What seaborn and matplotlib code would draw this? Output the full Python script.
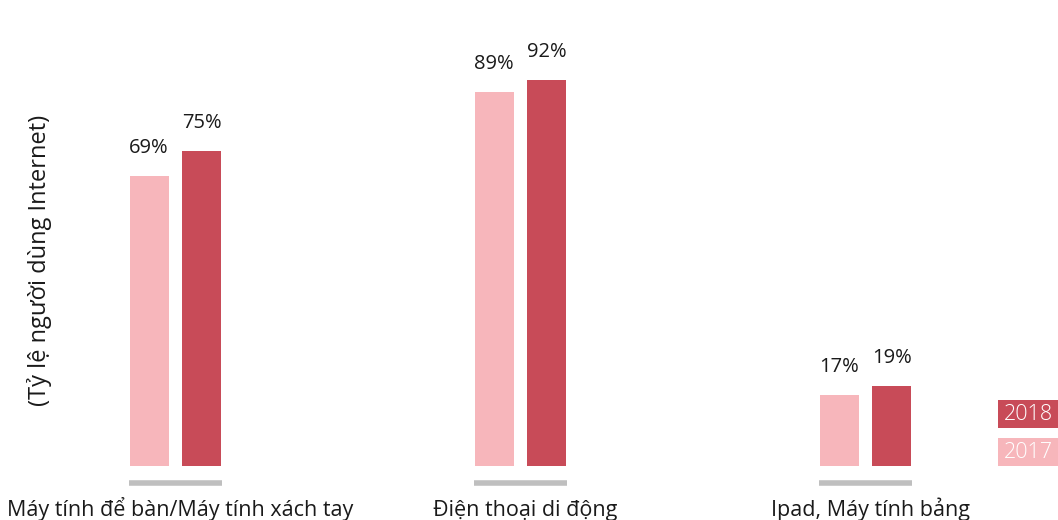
import matplotlib
matplotlib.use("Agg")
import matplotlib.pyplot as plt
from matplotlib.patches import Rectangle
from matplotlib.transforms import blended_transform_factory, offset_copy
import seaborn as sns
import pandas as pd

categories = ["Máy tính để bàn/Máy tính xách tay", "Điện thoại di động", "Ipad, Máy tính bảng"]
years = ["2017", "2018"]
values_2017 = [69, 89, 17]
values_2018 = [75, 92, 19]
y_label = "(Tỷ lệ người dùng Internet)"

light = "#f7b6bb"
dark = "#c84b58"
grey = "#bfbfbf"
text_col = "#1a1a1a"

sns.set_theme(style="white")
plt.rcParams["font.family"] = ["Open Sans", "DejaVu Sans"]

df = pd.DataFrame({
    "category": categories * 2,
    "year": [years[0]] * 3 + [years[1]] * 3,
    "value": values_2017 + values_2018,
})

W, H = 1058, 520
fig = plt.figure(figsize=(W / 100, H / 100), dpi=100)
base_px = 466
ax = fig.add_axes([0, (H - base_px) / H, 1, base_px / H])

sns.barplot(data=df, x="category", y="value", hue="year", order=categories,
            hue_order=years, palette={years[0]: light, years[1]: dark},
            width=0.307, gap=0.264, saturation=1, legend=False, ax=ax,
            linewidth=0, edgecolor="none")

px_per_unit = 4.2
group_spacing = 345
first_center = 175.5
ax.set_xlim(-first_center / group_spacing, (W - first_center) / group_spacing)
ax.set_ylim(0, base_px / px_per_unit)

for cont in ax.containers:
    ax.bar_label(cont, labels=[f"{v:.0f}%" for v in cont.datavalues],
                 padding=13, fontsize=14.5, color=text_col)

ax.set_axis_off()

# grey underline and category name beneath each pair
trans = blended_transform_factory(ax.transData, fig.transFigure)
label_trans = offset_copy(trans, fig=fig, x=5, y=0, units="dots")
half = 93 / 2 / group_spacing
for i, cat in enumerate(categories):
    ax.plot([i - half, i + half], [(H - 483) / H] * 2, color=grey, lw=4,
            solid_capstyle="butt", transform=trans, clip_on=False)
    ax.text(i, (H - 516) / H, cat, transform=label_trans, ha="center",
            va="baseline", fontsize=15.5, color=text_col)

fig.text(40 / W, (H - 260) / H, y_label, rotation=90, ha="center", va="center",
         fontsize=17, color=text_col)

# year key at the right edge
for yr, col, top in [(years[1], dark, 400), (years[0], light, 438)]:
    fig.patches.append(Rectangle((998 / W, (H - top - 28) / H), 62 / W, 28 / H,
                                 transform=fig.transFigure, facecolor=col,
                                 edgecolor="none"))
    fig.text(1028 / W, (H - top - 14) / H, yr, ha="center", va="center",
             fontsize=15.5, color="white", fontweight="light")

fig.savefig("out.png", dpi=100)
